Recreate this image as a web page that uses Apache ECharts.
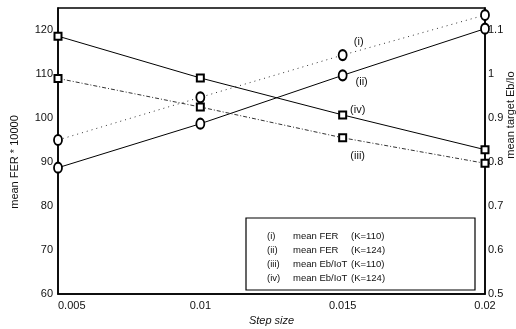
<!DOCTYPE html>
<html lang="en">
<head>
    <meta charset="UTF-8">
    <title>Step size</title>
    <script src="https://cdn.jsdelivr.net/npm/echarts@6/dist/echarts.min.js"></script>
    <style>
        body { margin: 0; background: #fff; }
        #container { width: 516px; height: 329px; }
    </style>
</head>
<body>
    <div id="container"></div>
    <script>
        // step sizes on the x axis
        var stepSize = [0.005, 0.01, 0.015, 0.02];
        var xTicks = ['0.005', '0.01', '0.015', '0.02'];

        // mean FER * 10000 (left axis)
        var ferK110 = [95.0, 104.7, 114.3, 123.4];
        var ferK124 = [88.7, 98.7, 109.7, 120.3];

        // mean target Eb/Io (right axis)
        var ebK110 = [0.990, 0.925, 0.855, 0.797];
        var ebK124 = [1.086, 0.991, 0.907, 0.828];

        var tags = ['(i)', '(ii)', '(iii)', '(iv)'];
        var legendRows = [
            ['(i)', 'mean FER', '(K=110)'],
            ['(ii)', 'mean FER', '(K=124)'],
            ['(iii)', 'mean Eb/IoT', '(K=110)'],
            ['(iv)', 'mean Eb/IoT', '(K=124)']
        ];

        var font = 'Liberation Sans, Arial, sans-serif';

        function pairs(ys) {
            return ys.map(function (y, i) { return [stepSize[i], y]; });
        }

        // put the roman tag next to the 3rd point
        function tagged(ys, tag, off) {
            var d = pairs(ys);
            d[2] = {
                value: d[2],
                label: {
                    show: true, formatter: tag, position: 'inside', offset: off,
                    color: '#111', fontSize: 11, fontFamily: font
                }
            };
            return d;
        }

        var dom = document.getElementById('container');
        var myChart = echarts.init(dom);

        // legend box, plain text like the original figure
        var legendEls = [{
            type: 'rect',
            shape: { x: 246, y: 218, width: 229, height: 72 },
            style: { fill: '#fff', stroke: '#000', lineWidth: 1.2 },
            z: 10
        }];
        legendRows.forEach(function (r, i) {
            var y = 236 + i * 14;
            [267, 293, 351].forEach(function (x, j) {
                legendEls.push({
                    type: 'text', x: x, y: y, z: 11,
                    style: {
                        text: r[j], fill: '#111', fontSize: 9.5, fontFamily: font,
                        verticalAlign: 'middle'
                    }
                });
            });
        });
        // right axis title, cut by the page edge as in the scan
        legendEls.push({
            type: 'text', x: 511, y: 115, rotation: Math.PI / 2,
            style: {
                text: 'mean target Eb/Io', fill: '#111', fontSize: 11, fontFamily: font,
                align: 'center', verticalAlign: 'middle'
            }
        });

        var option = {
            backgroundColor: '#fff',
            animation: false,
            grid: {
                left: 58, right: 31, top: 8, bottom: 35,
                containLabel: false, outerBoundsMode: 'none',
                show: true, borderColor: '#000', borderWidth: 1.5
            },
            xAxis: {
                type: 'value', min: 0.005, max: 0.02, interval: 0.005,
                name: 'Step size', nameLocation: 'middle', nameGap: 16,
                nameTextStyle: { fontStyle: 'italic', fontSize: 11, color: '#111', fontFamily: font },
                axisLine: { lineStyle: { color: '#000', width: 1.5 } },
                axisTick: { show: false },
                splitLine: { show: false },
                axisLabel: {
                    color: '#111', fontSize: 11, fontFamily: font, margin: 6,
                    alignMinLabel: 'left', alignMaxLabel: 'center',
                    formatter: function (v) {
                        var i = stepSize.indexOf(Math.round(v * 1000) / 1000);
                        return i >= 0 ? xTicks[i] : '';
                    }
                }
            },
            yAxis: [{
                type: 'value', min: 60, max: 125, interval: 10,
                name: 'mean FER * 10000', nameLocation: 'middle', nameGap: 38,
                nameTextStyle: { fontSize: 11, color: '#111', fontFamily: font, padding: [0, 22, 0, 0] },
                axisLine: { show: true, lineStyle: { color: '#000', width: 1.5 } },
                axisTick: { show: false },
                splitLine: { show: false },
                axisLabel: { color: '#111', fontSize: 11, fontFamily: font, margin: 5, showMaxLabel: false }
            }, {
                type: 'value', min: 0.5, max: 1.15, interval: 0.1,
                axisLine: { show: true, lineStyle: { color: '#000', width: 1.5 } },
                axisTick: { show: false },
                splitLine: { show: false },
                axisLabel: { color: '#111', fontSize: 11, fontFamily: font, margin: 3, showMaxLabel: false }
            }],
            series: [{
                name: 'mean FER (K=110)', type: 'line', yAxisIndex: 0,
                data: tagged(ferK110, tags[0], [16, -13]),
                symbol: 'emptyCircle', symbolSize: [8, 10],
                lineStyle: { color: '#333', width: 1, type: [1, 4] },
                itemStyle: { color: '#000', borderWidth: 1.5 }
            }, {
                name: 'mean FER (K=124)', type: 'line', yAxisIndex: 0,
                data: tagged(ferK124, tags[1], [19, 7]),
                symbol: 'emptyCircle', symbolSize: [8, 10],
                lineStyle: { color: '#000', width: 1 },
                itemStyle: { color: '#000', borderWidth: 1.5 }
            }, {
                name: 'mean Eb/IoT (K=110)', type: 'line', yAxisIndex: 1,
                data: tagged(ebK110, tags[2], [15, 18]),
                symbol: 'emptyRect', symbolSize: 7,
                lineStyle: { color: '#333', width: 1, type: [4, 2, 1, 2] },
                itemStyle: { color: '#000', borderWidth: 1.8 }
            }, {
                name: 'mean Eb/IoT (K=124)', type: 'line', yAxisIndex: 1,
                data: tagged(ebK124, tags[3], [15, -5]),
                symbol: 'emptyRect', symbolSize: 7,
                lineStyle: { color: '#000', width: 1 },
                itemStyle: { color: '#000', borderWidth: 1.8 }
            }],
            graphic: legendEls
        };

        myChart.setOption(option);
    </script>
</body>
</html>
